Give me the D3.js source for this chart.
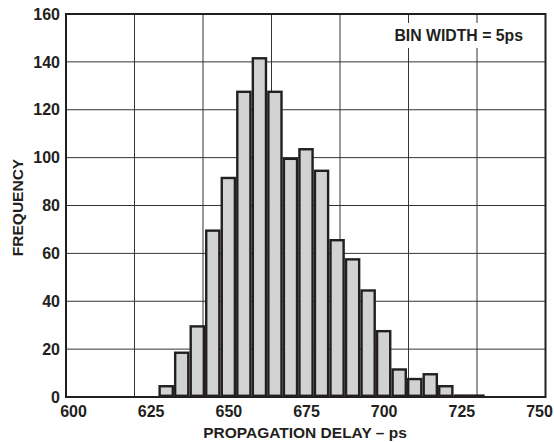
<!DOCTYPE html>
<html>
<head>
<meta charset="utf-8">
<script src="https://cdn.jsdelivr.net/npm/d3@7"></script>
<style>
  body { margin: 0; background: #fff; }
  svg text { font-family: "Liberation Sans", Arial, sans-serif; font-weight: bold; fill: #231f20; }
</style>
</head>
<body>
<svg id="chart" width="554" height="442"></svg>
<script>
// histogram bins (centre of each 5ps bin) and counts
var binCenters = [630, 635, 640, 645, 650, 655, 660, 665, 670, 675, 680,
                  685, 690, 695, 700, 705, 710, 715, 720, 725, 730];
var counts = [5, 19, 30, 70, 92, 128, 142, 128, 100, 104, 95,
              66, 58, 45, 28, 12, 8, 10, 5, 1, 1];
var xTicks = [600, 625, 650, 675, 700, 725, 750];
var yTicks = [0, 20, 40, 60, 80, 100, 120, 140, 160];

var svg = d3.select("#chart");
var ink = "#231f20";

var frame = { left: 66, right: 545.5, top: 14, bottom: 397 };

var x = d3.scaleLinear().domain([600, 750]).range([73, 539]);
var y = d3.scaleLinear().domain([0, 160]).range([frame.bottom, frame.top]);
// the vertical grid splits the frame into 7 columns
var gx = d3.scaleLinear().domain([0, 7]).range([frame.left, frame.right]);

var grid = svg.append("g").attr("stroke", "#333").attr("stroke-width", 1);
grid.selectAll("line.h").data(yTicks.slice(1, -1)).enter().append("line")
  .attr("x1", frame.left).attr("x2", frame.right)
  .attr("y1", function(d) { return y(d); }).attr("y2", function(d) { return y(d); });
grid.selectAll("line.v").data(d3.range(1, 7)).enter().append("line")
  .attr("y1", frame.top).attr("y2", frame.bottom)
  .attr("x1", function(d) { return gx(d); }).attr("x2", function(d) { return gx(d); });

// white patch behind the note
svg.append("rect").attr("x", 388).attr("y", 23).attr("width", 142).attr("height", 25)
  .attr("fill", "#fff");
svg.append("text").attr("x", 523).attr("y", 40.7).attr("text-anchor", "end")
  .attr("font-size", 15.8).text("BIN WIDTH = 5ps");

var sw = 2.4;
svg.append("g").selectAll("rect").data(counts).enter().append("rect")
  .attr("x", function(d, i) { return x(binCenters[i] - 2.5) + sw / 2; })
  .attr("width", function(d, i) { return x(binCenters[i] + 2.5) - x(binCenters[i] - 2.5) - sw; })
  .attr("y", function(d) { return Math.min(y(d) + sw / 2, y(0) - sw / 2 - 0.2); })
  .attr("height", function(d) { return Math.max(0.2, y(0) - y(d) - sw); })
  .attr("fill", "#d1d2d4").attr("stroke", ink).attr("stroke-width", sw);

svg.append("rect")
  .attr("x", frame.left).attr("y", frame.top)
  .attr("width", frame.right - frame.left).attr("height", frame.bottom - frame.top)
  .attr("fill", "none").attr("stroke", ink).attr("stroke-width", 2);

var xAxis = svg.append("g").attr("transform", "translate(0," + frame.bottom + ")")
  .call(d3.axisBottom(x).tickValues(xTicks).tickSize(0).tickPadding(8.5));
var yAxis = svg.append("g").attr("transform", "translate(" + frame.left + ",0)")
  .call(d3.axisLeft(y).tickValues(yTicks).tickSize(0).tickPadding(6));
[xAxis, yAxis].forEach(function(a) {
  a.select(".domain").remove();
  a.selectAll("text").attr("font-size", 16).attr("font-family", null).attr("fill", null);
  a.attr("font-family", null).attr("font-size", null);
});

svg.append("text").attr("x", 305).attr("y", 437.5).attr("text-anchor", "middle")
  .attr("font-size", 15.5).text("PROPAGATION DELAY – ps");
svg.append("text").attr("transform", "translate(23.3,207.5) rotate(-90)")
  .attr("text-anchor", "middle").attr("font-size", 15.5).text("FREQUENCY");
</script>
</body>
</html>
